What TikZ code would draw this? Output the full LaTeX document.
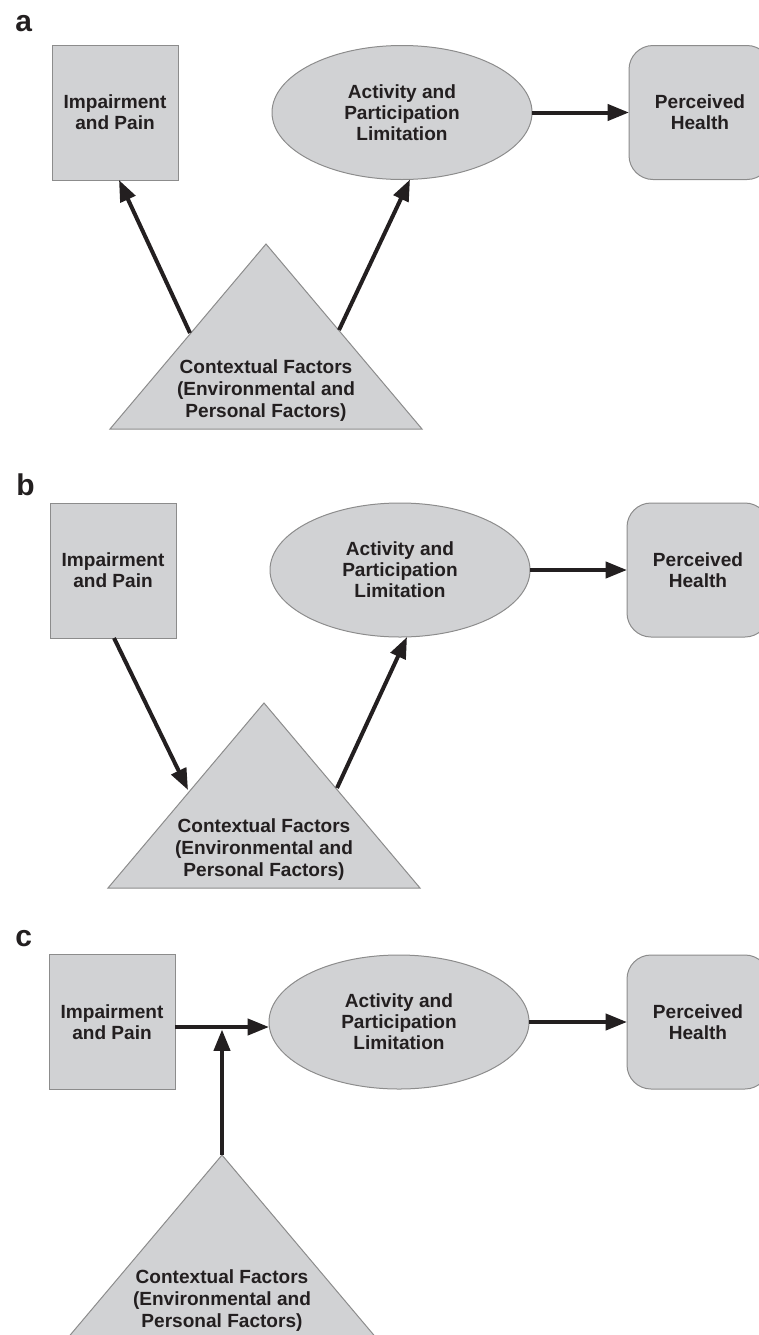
\documentclass[tikz,border=0pt]{standalone}
\usepackage{fontspec}
\setmainfont{Liberation Sans}
\usetikzlibrary{shapes.geometric,arrows.meta,calc}
\definecolor{boxfill}{HTML}{D1D2D4}
\definecolor{boxline}{HTML}{8C8C8C}
\definecolor{ink}{HTML}{231F20}
\begin{document}
\begin{tikzpicture}[x=0.75pt,y=-0.75pt,
  shp/.style={fill=boxfill,draw=boxline,line width=0.75pt,inner sep=0pt,outer sep=0pt,
    text=ink,align=center,font=\bfseries\fontsize{14.3}{15.75}\selectfont},
  impbox/.style={shp,rectangle,minimum width=94.5pt,minimum height=101.25pt},
  actell/.style={shp,ellipse,minimum width=195pt,minimum height=100.5pt},
  healthbox/.style={shp,rectangle,rounded corners=18pt,minimum width=106.5pt,minimum height=100.5pt},
  tri/.style={fill=boxfill,draw=boxline,line width=0.75pt,line join=miter},
  tritext/.style={text=ink,align=center,inner sep=0pt,font=\bfseries\fontsize{14.3}{16.5}\selectfont},
  lbl/.style={text=ink,inner sep=0pt,font=\bfseries\fontsize{22.5}{27}\selectfont},
  conn/.style={draw=ink,line width=3pt,-{Triangle[length=16pt,width=12pt]}}]
\useasboundingbox (0,0) rectangle (759,1335);
\clip (0,0) rectangle (759,1335);

% ---------- panel a ----------
\node[lbl,anchor=base west] (labA) at (15,31) {a};
\node[impbox] (impA) at (115,112.5) {Impairment\\and Pain};
\node[actell] (actA) at (402,112.5) {Activity and\\Participation\\Limitation};
\node[healthbox] (hltA) at (700,112.5) {Perceived\\Health};
\draw[conn] (actA.east) -- (hltA.west);
\path[tri] (266,244) coordinate (apexA) -- (422,429) -- (110,429) -- cycle;
\node[tritext] (ctxA) at (266,391) {Contextual Factors\\(Environmental and\\Personal Factors)};
\coordinate (tlA) at (190,333);
\coordinate (trA) at (339,330);
\draw[conn] (tlA) -- ($(impA.south)+(4,0)$);
\draw[conn] (trA) -- ($(actA.south)+(8,0)$);

% ---------- panel b ----------
\node[lbl,anchor=base west] (labB) at (16,495) {b};
\node[impbox] (impB) at (113,570.5) {Impairment\\and Pain};
\node[actell] (actB) at (400,570) {Activity and\\Participation\\Limitation};
\node[healthbox] (hltB) at (698,570) {Perceived\\Health};
\draw[conn] (actB.east) -- (hltB.west);
\path[tri] (264,703) coordinate (apexB) -- (420,888) -- (108,888) -- cycle;
\node[tritext] (ctxB) at (264,850) {Contextual Factors\\(Environmental and\\Personal Factors)};
\coordinate (tlB) at (188,790);
\coordinate (trB) at (337,788);
\draw[conn] ($(impB.south)+(1,0)$) -- (tlB);
\draw[conn] (trB) -- ($(actB.south)+(7,0)$);

% ---------- panel c ----------
\node[lbl,anchor=base west] (labC) at (15,946) {c};
\node[impbox] (impC) at (112,1022) {Impairment\\and Pain};
\node[actell] (actC) at (399,1022) {Activity and\\Participation\\Limitation};
\node[healthbox] (hltC) at (698,1022) {Perceived\\Health};
\draw[conn] (actC.east) -- (hltC.west);
\path[tri] (222,1155) coordinate (apexC) -- (378,1340) -- (66,1340) -- cycle;
\node[tritext] (ctxC) at (222,1301) {Contextual Factors\\(Environmental and\\Personal Factors)};
\coordinate (junC) at (222,1027);
\draw[conn] ($(impC.east)+(0,5)$) -- (actC.west |- junC);
\draw[conn] (apexC) -- ($(junC)+(0,2.5)$);
\end{tikzpicture}
\end{document}
